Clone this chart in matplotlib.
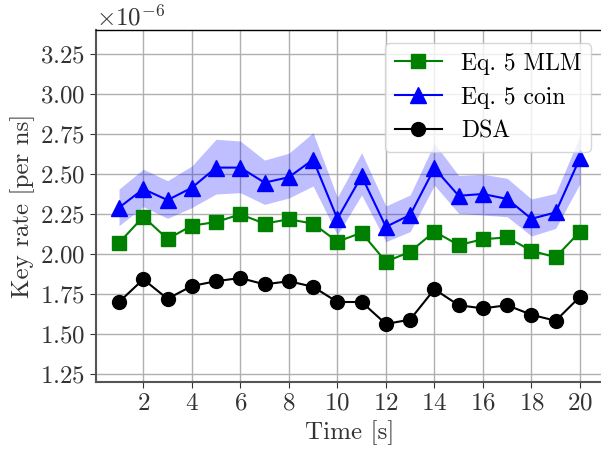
import matplotlib
matplotlib.use("Agg")
import matplotlib.pyplot as plt
import numpy as np

plt.rcParams['font.family'] = 'serif'
plt.rcParams['font.serif'] = ['cmr10', 'DejaVu Serif']
plt.rcParams['mathtext.fontset'] = 'cm'
plt.rcParams['axes.unicode_minus'] = False
plt.rcParams['axes.formatter.use_mathtext'] = True

time_s = list(range(1, 21))
mlm = [2.07, 2.233, 2.094, 2.177, 2.20, 2.248, 2.19, 2.217, 2.19, 2.077,
       2.133, 1.952, 2.014, 2.14, 2.056, 2.092, 2.104, 2.02, 1.98, 2.14]
coin = [2.29, 2.406, 2.337, 2.414, 2.54, 2.54, 2.446, 2.48, 2.59, 2.22,
        2.487, 2.17, 2.244, 2.536, 2.364, 2.375, 2.344, 2.22, 2.26, 2.60]
coin_hi = [2.406, 2.53, 2.458, 2.55, 2.717, 2.706, 2.587, 2.63, 2.758, 2.354,
           2.633, 2.30, 2.369, 2.692, 2.49, 2.498, 2.473, 2.344, 2.379, 2.74]
coin_lo = [2.177, 2.296, 2.223, 2.29, 2.375, 2.383, 2.31, 2.35, 2.425, 2.119,
           2.369, 2.077, 2.14, 2.43, 2.254, 2.244, 2.233, 2.1125, 2.16, 2.44]
dsa = [1.70, 1.842, 1.72, 1.80, 1.83, 1.85, 1.81, 1.83, 1.795, 1.70,
       1.70, 1.5625, 1.59, 1.78, 1.68, 1.66, 1.68, 1.62, 1.583, 1.733]

scale = 1e-6
t = np.array(time_s)

fig = plt.figure(figsize=(6.01, 4.5), dpi=100)
ax = fig.add_axes([96 / 601, 1 - 382 / 450, 507 / 601, 352 / 450])

ax.fill_between(t, np.array(coin_lo) * scale, np.array(coin_hi) * scale,
                color='blue', alpha=0.25, linewidth=0)
ax.plot(t, np.array(mlm) * scale, color='green', marker='s', markersize=10,
        linewidth=1.5, label='Eq. 5 MLM')
ax.plot(t, np.array(coin) * scale, color='blue', marker='^', markersize=11,
        linewidth=1.5, label='Eq. 5 coin')
ax.plot(t, np.array(dsa) * scale, color='black', marker='o', markersize=10,
        linewidth=1.5, label='DSA')

ax.set_xlim(0.05, 20.95)
ax.set_ylim(1.2e-6, 3.4e-6)
ax.set_xticks(range(2, 21, 2))
ax.set_yticks(np.arange(1.25, 3.26, 0.25) * scale)
ax.grid(True, color='#b0b0b0', linewidth=1)
ax.set_axisbelow(True)

for side in ['left', 'bottom']:
    ax.spines[side].set_color('#555555')
    ax.spines[side].set_linewidth(1.5)
ax.spines['top'].set_color('black')
ax.spines['top'].set_linewidth(1.0)
ax.spines['right'].set_visible(False)

ax.tick_params(labelsize=18, colors='#333333', length=4)
ax.yaxis.get_offset_text().set_fontsize(18)
ax.set_xlabel('Time [s]', fontsize=18, color='#333333')
ax.set_ylabel('Key rate [per ns]', fontsize=18, color='#333333')

ax.legend(loc='upper right', fontsize=17, bbox_to_anchor=(0.976, 0.963),
          borderaxespad=0, framealpha=0.8, handlelength=2.0)

fig.savefig('out.png', dpi=100)
